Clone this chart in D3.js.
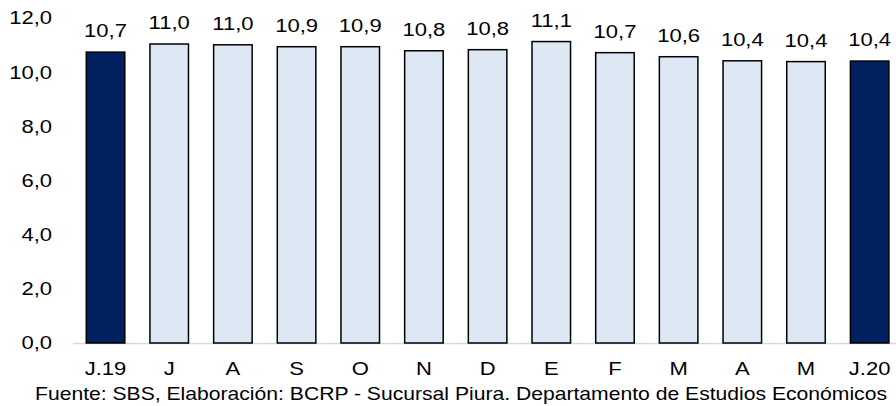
<!DOCTYPE html>
<html><head><meta charset="utf-8">
<script src="https://cdn.jsdelivr.net/npm/d3@7"></script>
<style>body{margin:0;background:#fff}svg{display:block}text{font-family:"Liberation Sans",Arial,sans-serif;fill:#000}</style>
</head><body>
<svg id="c" width="896" height="406"></svg>
<script>
const categories = ["J.19","J","A","S","O","N","D","E","F","M","A","M","J.20"];
const values = [10.74, 11.04, 11.01, 10.94, 10.94, 10.79, 10.83, 11.13, 10.72, 10.57, 10.42, 10.39, 10.41];
const highlight = [true,false,false,false,false,false,false,false,false,false,false,false,true];
const yTicks = [0,2,4,6,8,10,12];
const source = "Fuente: SBS, Elaboración: BCRP - Sucursal Piura. Departamento de Estudios Económicos";

const svg = d3.select("#c");
const fs = 18.5, sx = 1.19;
const x = d3.scaleBand().domain(d3.range(categories.length)).range([73.7, 901.5]).paddingInner(0.395).paddingOuter(0.1975);
const y = d3.scaleLinear().domain([0,12]).range([343,18]);
const fmt = v => d3.format(".1f")(v).replace(".", ",");

function txt(g, px, py, s, anchor, base) {
  return g.append("text").attr("transform", `translate(${px},${py}) scale(${sx},1)`)
    .attr("text-anchor", anchor).attr("dominant-baseline", base || "auto")
    .attr("font-size", fs).text(s);
}

// y tick labels
const yg = svg.append("g");
yTicks.forEach(t => txt(yg, 52, y(t), fmt(t), "end", "central"));

// axis line
svg.append("line").attr("x1", 73).attr("x2", 896).attr("y1", y(0)+0.5).attr("y2", y(0)+0.5)
  .attr("stroke", "#d9d9d9").attr("stroke-width", 1.5);

// bars
svg.append("g").selectAll("rect").data(values).join("rect")
  .attr("x", (d,i) => x(i)).attr("width", x.bandwidth())
  .attr("y", d => y(d)).attr("height", d => y(0) - y(d))
  .attr("fill", (d,i) => highlight[i] ? "#002060" : "#dde8f4")
  .attr("stroke", "#000").attr("stroke-width", 1.5);

// value labels
const vg = svg.append("g");
values.forEach((v,i) => txt(vg, x(i)+x.bandwidth()/2, y(v)-15, fmt(v), "middle"));

// x labels
const xg = svg.append("g");
categories.forEach((c,i) => txt(xg, x(i)+x.bandwidth()/2, 375, c, "middle"));

// source
svg.append("text").attr("x", 35).attr("y", 400).attr("font-size", fs)
  .attr("textLength", 852).attr("lengthAdjust", "spacingAndGlyphs").text(source);
</script>
</body></html>
